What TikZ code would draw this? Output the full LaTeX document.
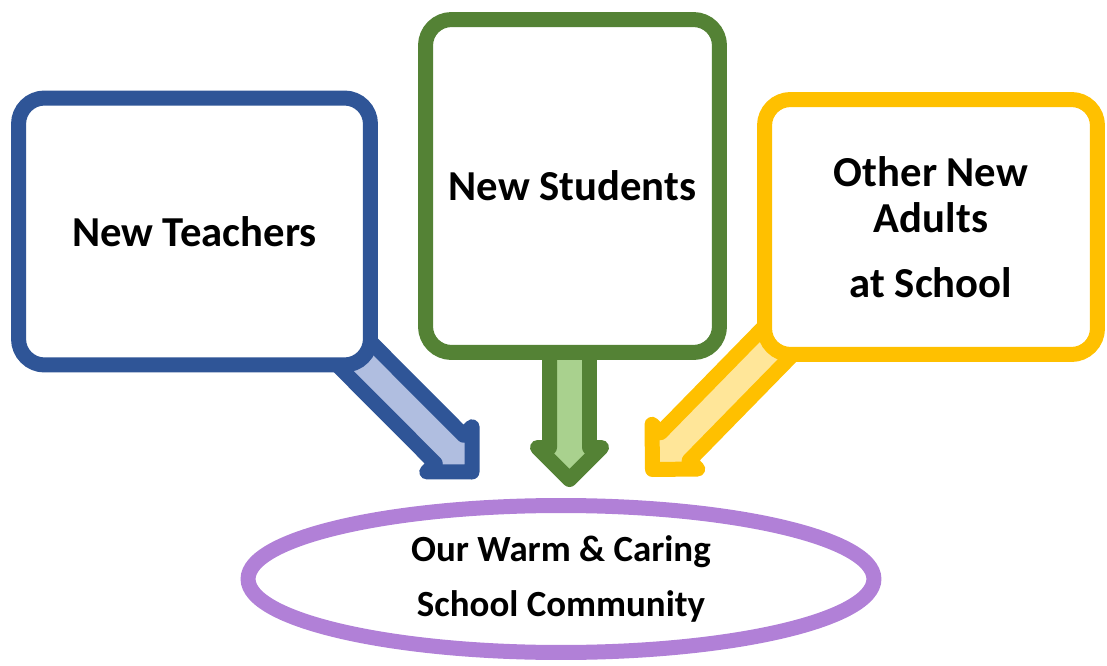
\documentclass[tikz,border=0pt]{standalone}
\usepackage{fontspec}
\setmainfont{Carlito}
\usepackage{tikz}
\usetikzlibrary{calc,shapes.geometric,backgrounds}

\definecolor{teachblue}{RGB}{47,85,151}
\definecolor{teachfill}{RGB}{176,190,224}
\definecolor{studgreen}{RGB}{84,130,53}
\definecolor{studfill}{RGB}{169,209,142}
\definecolor{adultgold}{RGB}{255,192,0}
\definecolor{adultfill}{RGB}{255,230,153}
\definecolor{commpurple}{RGB}{177,128,215}

% block arrow: #1 style, #2 tail, #3 tip
\newcommand{\fatarrow}[3]{%
  \coordinate (#2base) at ($(#3)!0.64cm!(#2)$);
  \draw[#1] ($(#2)!0.4cm!90:(#3)$) -- ($(#2base)!0.4cm!90:(#3)$)
    -- ($(#2base)!0.64cm!90:(#3)$) -- (#3)
    -- ($(#2base)!0.64cm!-90:(#3)$) -- ($(#2base)!0.4cm!-90:(#3)$)
    -- ($(#2)!0.4cm!-90:(#3)$) -- cycle;
}

\begin{document}
\begin{tikzpicture}[x=0.02cm, y=-0.02cm,
  box/.style={draw, line width=0.3cm, rounded corners=0.52cm, fill=white,
    font=\fontsize{24.3}{26}\selectfont\bfseries, align=center},
  link/.style={line width=0.3cm, line join=round}]
\useasboundingbox (0,0) rectangle (1107,666);

% Boxes
\node[box, draw=teachblue, minimum width=7.04cm, minimum height=5.34cm]
  (teachers) at (194.5,231.5) {New Teachers};
\node[box, draw=studgreen, minimum width=5.88cm, minimum height=6.66cm]
  (students) at (572.5,186) {New Students};
\node[box, draw=adultgold, minimum width=6.66cm, minimum height=5.1cm]
  (adults) at (931,227) {Other New\\Adults\\[11pt]at School};

% Community
\node[ellipse, draw=commpurple, line width=0.3cm, minimum width=12.52cm,
  minimum height=2.94cm, align=center,
  font=\fontsize{21}{31.8}\selectfont\bfseries]
  (community) at (561,579) {Our Warm \& Caring\\School Community};

% Arrows
\coordinate (teachtail) at ($(teachers.south east)+(-40,-35)$);
\coordinate (studtail) at ($(students.south)+(-3,-25)$);
\coordinate (adulttail) at ($(adults.south west)+(30,-30)$);
\coordinate (teachtip) at (472,472);
\coordinate (studtip) at (569.5,479.5);
\coordinate (adulttip) at (652.5,469.5);

\begin{pgfonlayer}{background}
\fatarrow{link, draw=teachblue, fill=teachfill}{teachtail}{teachtip}
\fatarrow{link, draw=studgreen, fill=studfill}{studtail}{studtip}
\fatarrow{link, draw=adultgold, fill=adultfill}{adulttail}{adulttip}
\end{pgfonlayer}
\end{tikzpicture}
\end{document}
